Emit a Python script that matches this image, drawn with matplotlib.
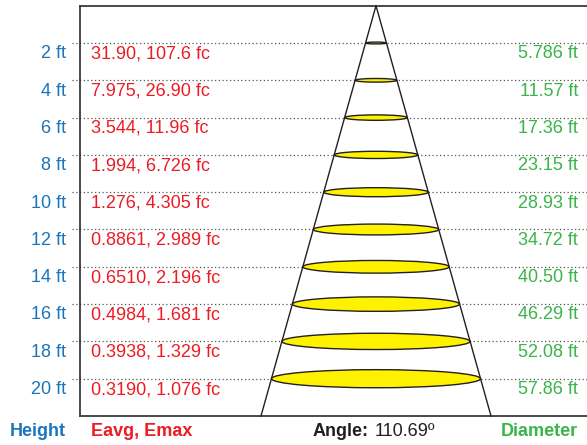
import matplotlib
matplotlib.use("Agg")
import matplotlib.pyplot as plt
import matplotlib.transforms as mtransforms
from matplotlib.patches import Ellipse

plt.rcParams["font.family"] = ["Liberation Sans", "DejaVu Sans"]

heights = [2, 4, 6, 8, 10, 12, 14, 16, 18, 20]
eavg = ["31.90", "7.975", "3.544", "1.994", "1.276", "0.8861", "0.6510", "0.4984", "0.3938", "0.3190"]
emax = ["107.6", "26.90", "11.96", "6.726", "4.305", "2.989", "2.196", "1.681", "1.329", "1.076"]
diameter = ["5.786", "11.57", "17.36", "23.15", "28.93", "34.72", "40.50", "46.29", "52.08", "57.86"]
angle = "110.69º"

C_H = "#1b75bc"
C_E = "#ed1c24"
C_D = "#39b54a"
C_K = "#231f20"
FS = 13

W, H = 587, 445
PPF = 18.65        # pixels per foot in the drawing
SLOPE = 0.2803     # schematic cone half-width per foot of depth
X0 = 376           # apex x, pixels
TOP, BOT, LEFT = 5.7, 416, 80

fig = plt.figure(figsize=(W / 100, H / 100), dpi=100)
ax = fig.add_axes([LEFT / W, (H - BOT) / H, (W - LEFT) / W, (BOT - TOP) / H])
ax.set_xlim((LEFT - X0) / PPF, (W - X0) / PPF)
ax.set_ylim((BOT - TOP) / PPF, 0)
ax.set_xticks([])
ax.set_yticks([])
for side in ("left", "top", "bottom"):
    ax.spines[side].set_color("#3a3a3a")
    ax.spines[side].set_linewidth(1.3)
ax.spines["right"].set_visible(False)

ymax = (BOT - TOP) / PPF
x_lo = (72 - X0) / PPF
x_hi = (W - X0) / PPF

# cone
ax.plot([-SLOPE * ymax, 0, SLOPE * ymax], [ymax, 0, ymax],
        color=C_K, lw=1.0, zorder=4, clip_on=False)

for h in heights:
    ax.plot([x_lo, x_hi], [h, h], color="#555555", lw=0.9,
            linestyle=(0, (1, 2)), zorder=1, clip_on=False)
    w = 2 * SLOPE * h
    ax.add_patch(Ellipse((0, h), w, w * 0.0865, facecolor="#fff200",
                         edgecolor=C_K, lw=1.0, zorder=3))

tx = mtransforms.blended_transform_factory(fig.transFigure, ax.transData)
for h, e1, e2, d in zip(heights, eavg, emax, diameter):
    y = h + 0.58
    ax.text(66 / W, y, f"{h} ft", color=C_H, fontsize=FS,
            ha="right", va="center", transform=tx)
    ax.text(91 / W, y, f"{e1}, {e2} fc", color=C_E, fontsize=FS,
            ha="left", va="center", transform=tx)
    ax.text(578 / W, y, f"{d} ft", color=C_D, fontsize=FS,
            ha="right", va="center", transform=tx)

yb = (H - 431) / H
fig.text(66 / W, yb, "Height", color=C_H, fontsize=FS, fontweight="bold",
         ha="right", va="center")
fig.text(91 / W, yb, "Eavg, Emax", color=C_E, fontsize=FS, fontweight="bold",
         ha="left", va="center")
t_ang = fig.text(313 / W, yb, "Angle:", color=C_K, fontsize=FS, fontweight="bold",
                 ha="left", va="baseline")
fig.canvas.draw()
# put the angle value on the same baseline, just after the bold label
ext = t_ang.get_window_extent()
t_ang.set_y(yb - 0.0115)
fig.text((ext.x1 + 6) / W, yb - 0.0115, angle, color=C_K, fontsize=FS,
         ha="left", va="baseline")
fig.text(578 / W, yb, "Diameter", color=C_D, fontsize=FS, fontweight="bold",
         ha="right", va="center")

fig.savefig("out.png", dpi=100)
